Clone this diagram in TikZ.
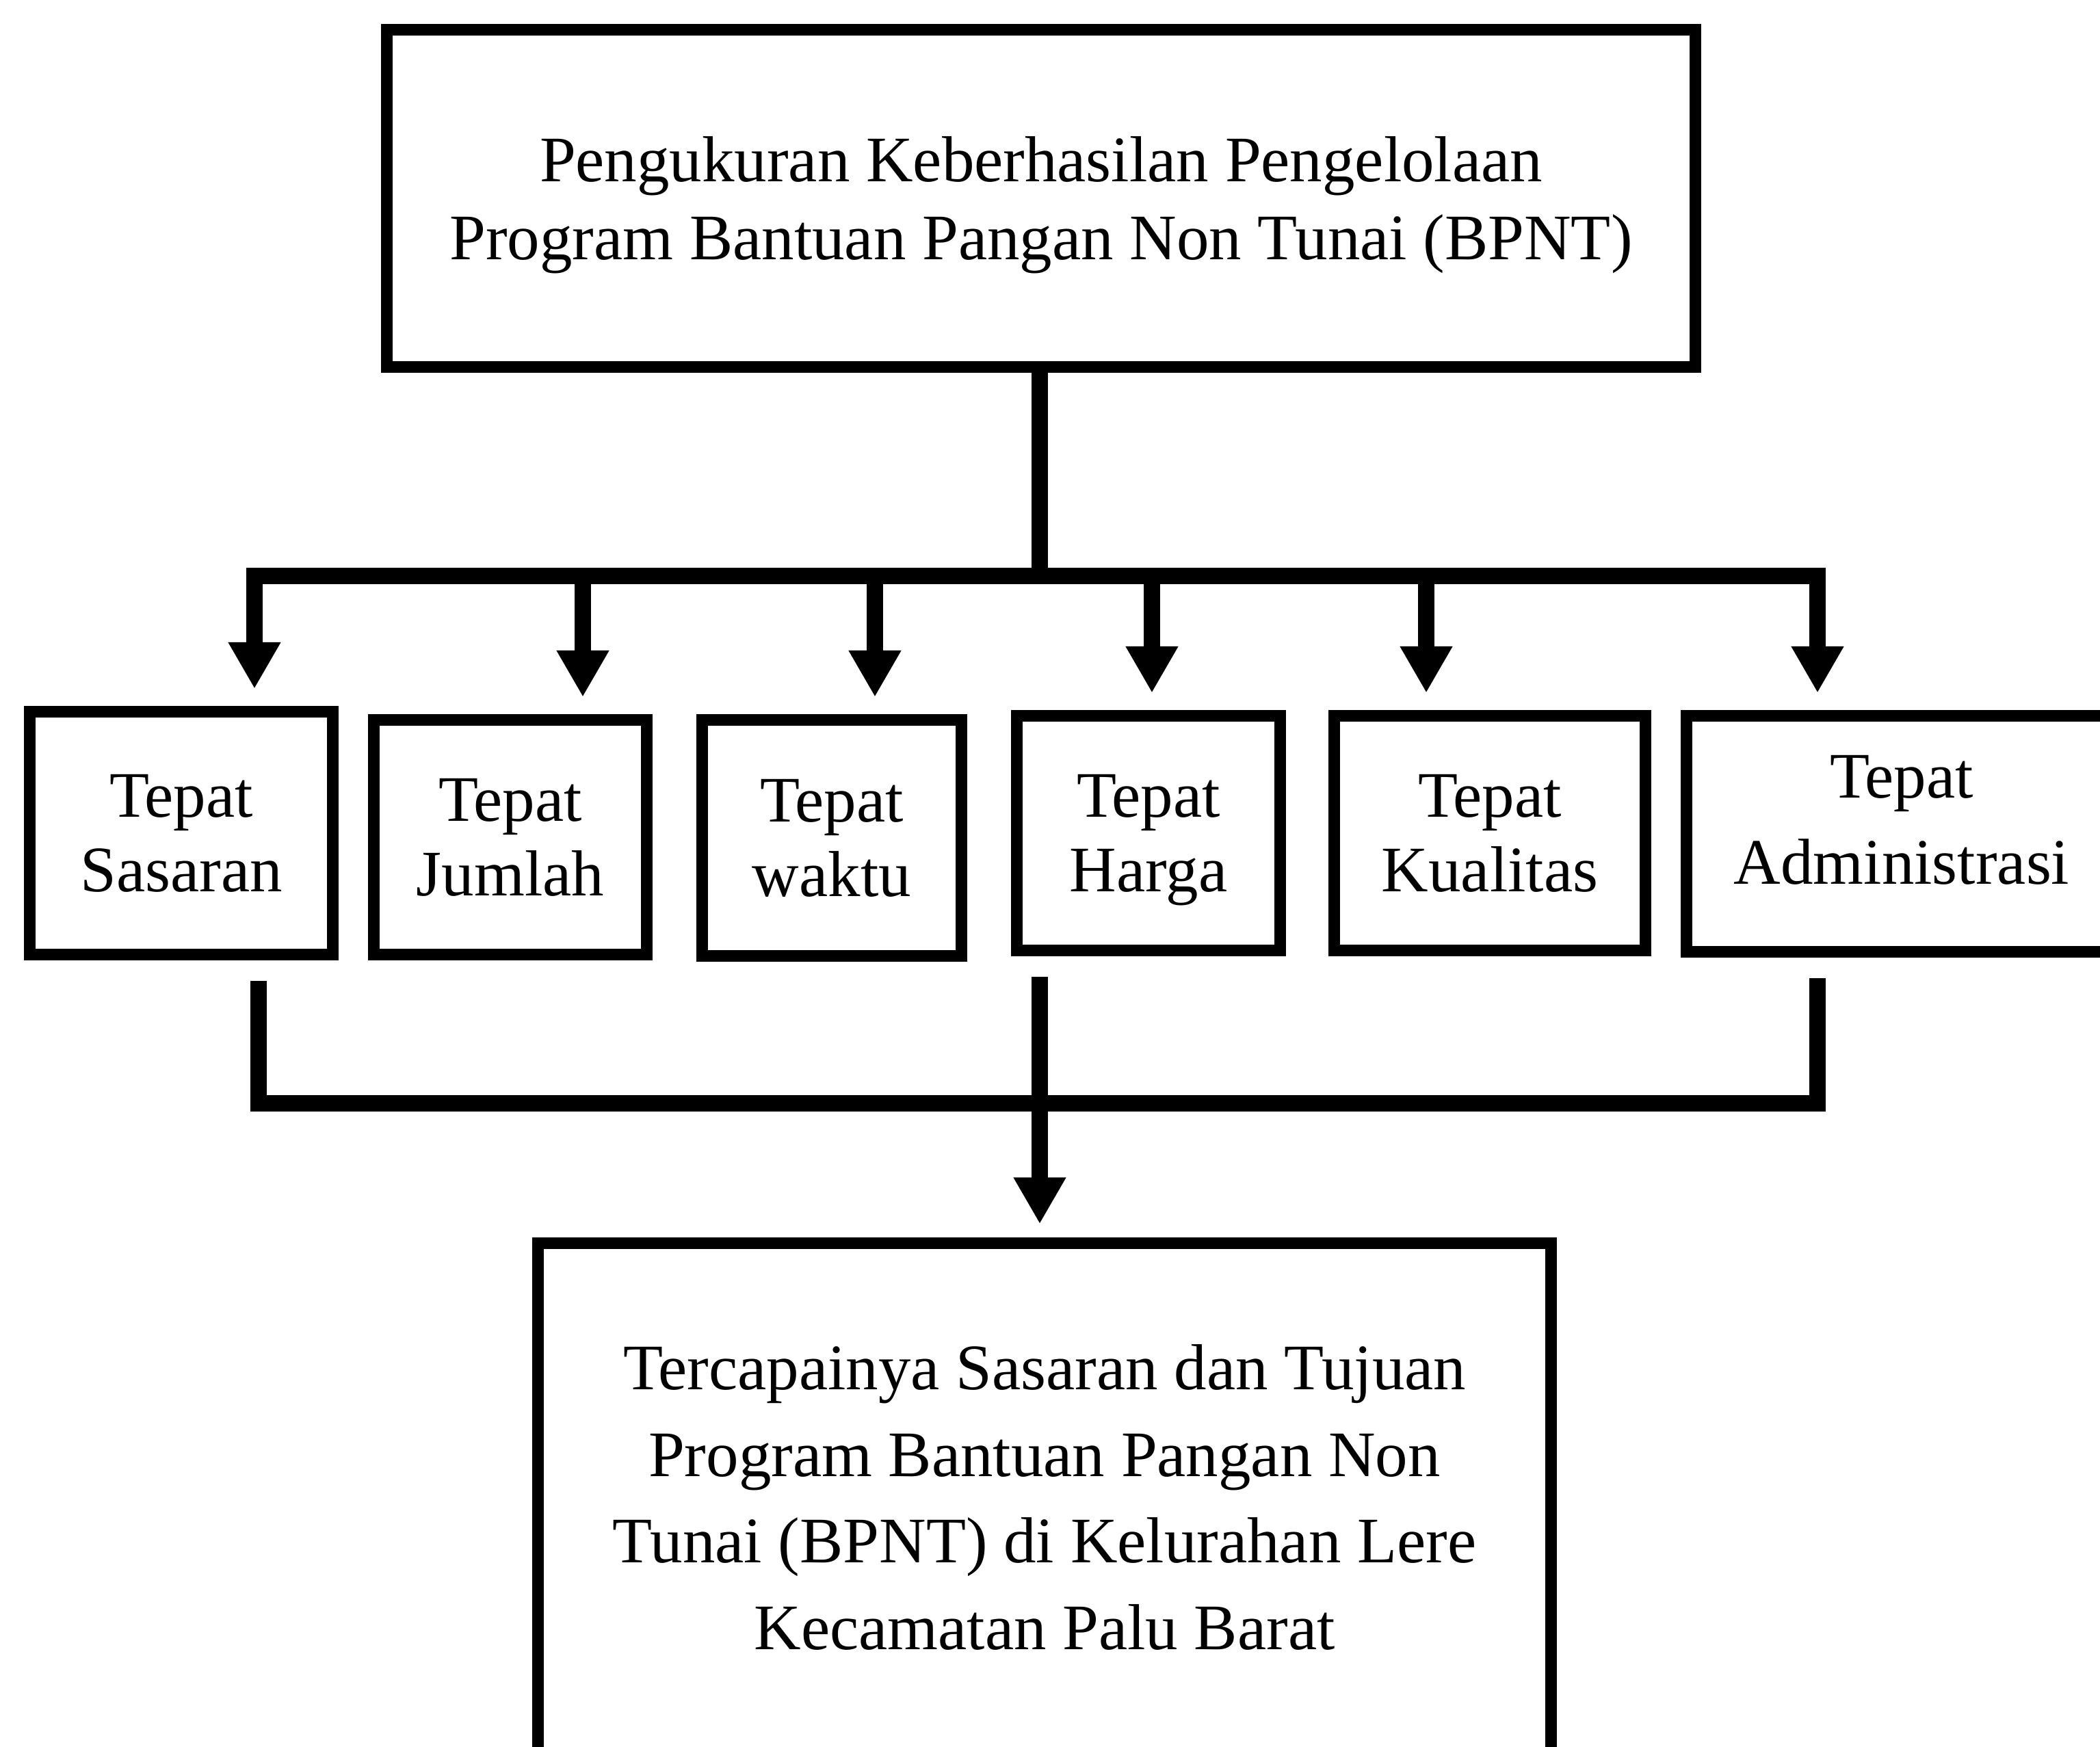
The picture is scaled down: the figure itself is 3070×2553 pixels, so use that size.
\documentclass[tikz,border=0pt]{standalone}
\usepackage{fontspec}
\setmainfont{Liberation Serif}
\usetikzlibrary{positioning}
\usetikzlibrary{arrows.meta}

\tikzset{
  box/.style={draw, line width=.17cm, inner sep=0pt, align=center, font=\fontsize{27}{31}\selectfont},
  link/.style={line width=.24cm},
}
% pad a line above (#1) or below (#2)
\newcommand{\padline}[3]{\raisebox{0pt}[\dimexpr\height+#1][\dimexpr\depth+#2]{#3}}

\begin{document}
\begin{tikzpicture}[x=.01cm, y=-.01cm, >={Triangle[length=.68cm,width=.72cm]}]
\useasboundingbox (0,0) rectangle (3070,2553);
% main box
\node[box, minimum width=19.11cm, minimum height=4.93cm, font=\fontsize{27}{32.5}\selectfont] (top) at (1522,290) {\padline{.2cm}{0pt}{Pengukuran Keberhasilan Pengelolaan}\\Program Bantuan Pangan Non Tunai (BPNT)};
% six criteria
\node[box, minimum width=4.43cm, minimum height=3.55cm] (sasaran) at (265,1218) {Tepat\\Sasaran};
\node[box, minimum width=3.99cm, minimum height=3.43cm] (jumlah) at (746,1224) {Tepat\\Jumlah};
\node[box, minimum width=3.79cm, minimum height=3.45cm] (waktu) at (1216,1225) {Tepat\\waktu};
\node[box, minimum width=3.85cm, minimum height=3.43cm] (harga) at (1679,1218) {Tepat\\\padline{0pt}{-.2cm}{Harga}};
\node[box, minimum width=4.55cm, minimum height=3.43cm] (kualitas) at (2178,1218) {Tepat\\Kualitas};
\node[box, minimum width=6.29cm, minimum height=3.45cm, font=\fontsize{27}{36}\selectfont] (adm) at (2780,1219) {Tepat\\\padline{0pt}{.4cm}{Administrasi}};
% result box
\node[box, minimum width=14.8cm, minimum height=7.62cm, font=\fontsize{27}{36}\selectfont] (hasil) at (1527,2199) {Tercapainya Sasaran dan Tujuan\\Program Bantuan Pangan Non\\Tunai (BPNT) di Kelurahan Lere\\\padline{0pt}{.2cm}{Kecamatan Palu Barat}};
% upper bus
\coordinate (bus) at (1520,842);
\coordinate (d1) at (372,842);
\coordinate (d2) at (852,842);
\coordinate (d3) at (1279,842);
\coordinate (d4) at (1684,842);
\coordinate (d5) at (2085,842);
\coordinate (d6) at (2657,842);
\draw[link] (top.south -| bus) -- (bus);
\draw[link, <->, shorten <=.25cm, shorten >=.25cm] (d6 |- adm.north) -- (d6) -- (d1) -- (d1 |- sasaran.north);
\foreach \d/\b in {d2/jumlah, d3/waktu, d4/harga, d5/kualitas}
  \draw[link, ->, shorten >=.25cm] (\d) -- (\d |- \b.north);
% lower bus
\coordinate (e1) at (378,1613);
\coordinate (e6) at (2657,1613);
\draw[link, shorten <=.3cm, shorten >=.3cm] (sasaran.south -| e1) -- (e1) -- (e6) -- (adm.south -| e6);
\draw[link, ->, shorten <=.3cm, shorten >=.2cm] (harga.south -| bus) -- (bus |- hasil.north);
\end{tikzpicture}
\end{document}
